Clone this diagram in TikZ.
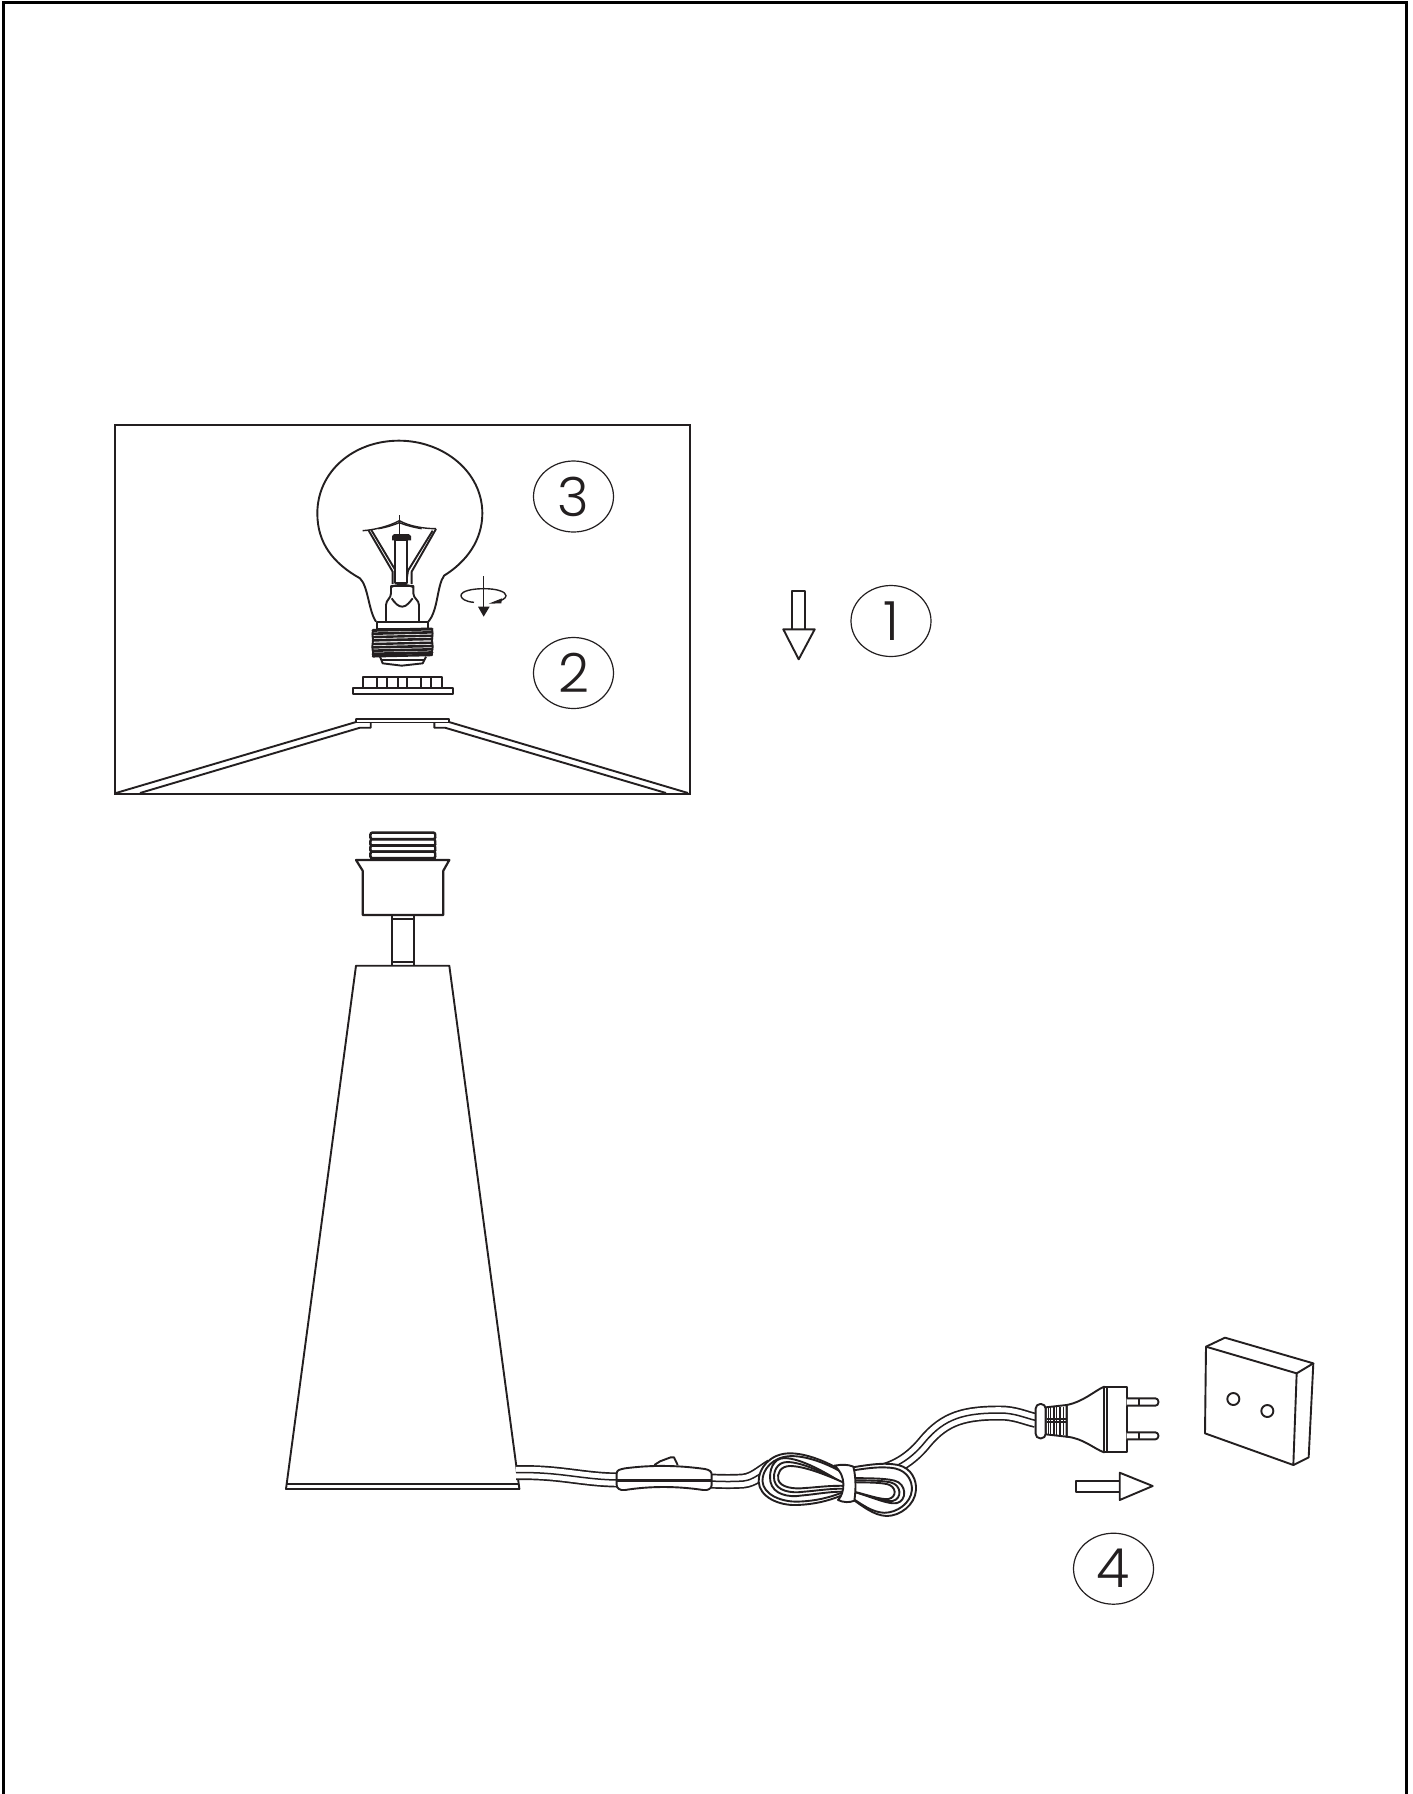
\documentclass[tikz,border=0pt]{standalone}
\usepackage{fontspec}
\newfontfamily\numfont[UprightFont=* Light]{Poppins}
\usetikzlibrary{shapes.geometric}
\definecolor{ink}{HTML}{231F20}
\tikzset{
  thin line/.style={draw=ink,line width=1.4pt},
  med line/.style={draw=ink,line width=1.9pt,line join=round},
  frame line/.style={draw=black,line width=3.2pt},
  numring/.style={ellipse,draw=ink,line width=1.2pt,minimum width=80pt,minimum height=71pt,inner sep=0pt,font=\numfont\fontsize{54}{54}\selectfont,text=ink},
  cable outer/.style={draw=ink,line width=15pt},
  cable inner/.style={draw=white,line width=11.6pt},
  cable mid/.style={draw=ink,line width=1.5pt},
}
\newcommand{\cablepath}[1]{%
  \draw[cable outer] #1;
  \draw[cable inner] #1;
  \draw[cable mid] #1;
}
\newcommand{\numtext}[1]{\raisebox{-1.5pt}{#1}}
\begin{document}
\begin{tikzpicture}[x=1pt,y=-1pt]
\useasboundingbox (0,0) rectangle (1413,1794);
\fill[white] (0,0) rectangle (1413,1794);
% frame
\draw[frame line] (3.5,1794) -- (3.5,2.6) -- (1406.5,2.6) -- (1406.5,1794);
% shade box
\draw[draw=ink,line width=2pt] (115,425) rectangle (690,794);
% shade inner
\draw[med line] (116,793) -- (356,722) -- (356,719) -- (449,719) -- (449,722) -- (688,793);
\draw[med line] (356,722.5) -- (449,722.5);
\draw[med line] (140,793) -- (360,727.7) -- (370.7,727.7) -- (370.7,722.5);
\draw[med line] (666,793) -- (445,727.7) -- (434.3,727.7) -- (434.3,722.5);
% bulb (zoom coordinates)
\begin{scope}[shift={(300,430)},scale=1/3]
  \draw[med line] (228,575) .. controls (205,540) and (205,470) .. (180,445)
     .. controls (100,400) and (52,340) .. (52,250)
     .. controls (52,125) and (160,32) .. (297,32)
     .. controls (430,32) and (547,125) .. (547,250)
     .. controls (547,330) and (500,395) .. (432,437)
     .. controls (410,470) and (415,540) .. (385,575);
  % filament support
  \draw[thin line] (188,302) .. controls (220,300) and (265,290) .. (298,272) .. controls (330,290) and (375,296) .. (408,296);
  \draw[thin line] (235,296) .. controls (260,292) and (280,285) .. (298,278) .. controls (315,285) and (340,292) .. (365,296);
  \draw[thin line] (298,255) -- (298,315);
  \draw[med line] (205,300) -- (278,425) -- (278,462);
  \draw[med line] (214,300) -- (287,422) -- (292,462);
  \draw[med line] (408,297) -- (335,425) -- (335,462);
  \draw[med line] (398,302) -- (324,422) -- (318,462);
  \draw[med line,fill=white] (285,330) rectangle (320,458);
  \fill[ink] (282,312) -- (326,312) -- (333,318) -- (333,331) -- (276,331) -- (276,318) -- cycle;
  % stem
  \draw[med line,fill=white] (258,575) -- (258,525) .. controls (258,510) and (273,505) .. (273,490) -- (273,468)
     -- (340,468) -- (340,490) .. controls (340,505) and (357,510) .. (357,525) -- (357,575);
  \draw[med line] (273,472) .. controls (285,462) and (325,462) .. (340,472);
  \draw[med line] (275,505) .. controls (285,520) and (295,530) .. (307,530) .. controls (320,530) and (330,515) .. (338,505);
  % collar and thread
  \draw[med line,fill=white] (230,575) rectangle (385,597);
  \fill[white] (217,597) rectangle (398,680);
  \draw[med line] (240,680) -- (248,700) -- (305,707) -- (368,700) -- (378,680);
  \draw[med line] (245,690) -- (372,690);
  \foreach \yy/\w in {600/3,610/2.6,620/2.4,630/2.6,641/2.4,651/2.6,661/2.6,671/3,678/2.4}
    \draw[ink,line width=\w pt,line cap=round] (219,\yy+1) -- (396,\yy-3);
  \draw[med line] (219,600) .. controls (214,620) and (222,625) .. (218,640) .. controls (214,655) and (222,665) .. (219,678);
  \draw[med line] (396,597) .. controls (401,620) and (393,625) .. (397,640) .. controls (401,655) and (393,665) .. (396,675);
  % lampholder teeth
  \draw[med line] (190,742) rectangle (427,775);
  \foreach \xx in {232,260,295,320,362,392}
    \draw[med line] (\xx,742) -- (\xx,775);
  \draw[med line,fill=white] (160,775) rectangle (458,793);
  % rotation arrow
  \draw[thin line] (550,438) -- (550,535);
  \fill[ink] (534,530) -- (569,530) -- (551,560) -- cycle;
  \draw[thin line] (522,517) .. controls (495,515) and (483,505) .. (483,497)
     .. controls (483,482) and (520,476) .. (552,476)
     .. controls (590,476) and (618,485) .. (618,497)
     .. controls (618,505) and (605,512) .. (590,515);
  \fill[ink] (566,521) -- (606,505) -- (604,520) -- cycle;
\end{scope}
% number rings
\node[numring] (n3) at (573.5,496.5) {\numtext{3}};
\node[numring] (n2) at (573.5,673) {\numtext{2}};
\node[numring] (n1) at (891,621) {\numtext{1}};
\node[numring] (n4) at (1113.5,1568.7) {\numtext{4}};
% arrows
\draw[med line] (792.3,629.3) -- (792.3,590.7) -- (805,590.7) -- (805,629.3);
\draw[med line] (783.3,629.3) -- (814.7,629.3) -- (798.7,659.3) -- cycle;
\draw[med line] (1119.7,1480.7) -- (1075.7,1480.7) -- (1075.7,1491.7) -- (1119.7,1491.7);
\draw[med line] (1119.7,1472.7) -- (1152.7,1486) -- (1119.7,1500) -- cycle;
% socket fitting
\begin{scope}[shift={(330,810)},scale=1/3]
  \foreach \yy in {68,88,106,125}
    \draw[med line,rounded corners=2pt,line width=2.4pt] (120,\yy) -- (317,\yy) -- (314,\yy+10) -- (317,\yy+19) -- (120,\yy+19) -- (123,\yy+10) -- cycle;
  \draw[med line,line width=2.4pt] (120,146) -- (317,146);
  \draw[med line,line width=2.2pt] (78,150) -- (358,150) -- (340,182) -- (340,315) -- (98,315) -- (98,182) -- cycle;
  \draw[med line] (185,315) -- (185,467);
  \draw[med line] (252,315) -- (252,467);
  \draw[med line] (185,326) -- (252,326);
  \draw[med line] (185,456) -- (252,456);
\end{scope}
% lamp base
\draw[med line] (286,1489) -- (356,965.7) -- (449.3,965.7) -- (519.4,1489) -- cycle;
\draw[med line] (287,1484) -- (518.5,1484);
% cable from base to switch
\begin{scope}[shift={(500,1400)},scale=1/3]
  \cablepath{(48,218) .. controls (180,215) and (240,238) .. (352,240)}
  \cablepath{(632,243) .. controls (670,245) and (700,245) .. (730,243) .. controls (760,240) and (780,220) .. (815,198)}
  % switch
  \draw[med line,fill=white] (350,220) .. controls (350,210) and (360,208) .. (375,205)
     .. controls (450,195) and (530,195) .. (615,207)
     .. controls (630,210) and (635,215) .. (635,225) -- (635,255)
     .. controls (635,265) and (625,272) .. (610,270)
     .. controls (530,258) and (450,258) .. (375,270)
     .. controls (360,272) and (350,265) .. (350,255) -- cycle;
  \draw[ink,line width=2.4pt] (352,241) -- (633,241);
  \draw[med line,line join=round] (463,195) -- (480,184) -- (512,172) -- (522,172) -- (533,195);
\end{scope}
% cable to plug
\cablepath{(862,1474) .. controls (888,1473) and (908,1463) .. (925,1442) .. controls (945,1418) and (965,1413) .. (1000,1413) .. controls (1015,1413) and (1025,1418) .. (1036,1420.5)}
% coil
\begin{scope}[shift={(500,1400)},scale=1/3]
  % right loop: outer turns, then the turns round the hole
  \foreach \sx/\sy in {1/1,.94/.87}{
    \begin{scope}[shift={(1040,274)},xscale=\sx,yscale=\sy,shift={(-1040,-274)}]
      \draw[med line,fill=white] (1040,205) .. controls (1100,195) and (1150,186) .. (1195,195)
        .. controls (1235,205) and (1250,240) .. (1248,270)
        .. controls (1245,315) and (1200,348) .. (1160,348)
        .. controls (1120,346) and (1090,320) .. (1040,285) -- cycle;
    \end{scope}
  }
  \foreach \sx/\sy in {1.2/1.5,1.1/1.24,1/1}{
    \begin{scope}[shift={(1040,272)},xscale=\sx,yscale=\sy,shift={(-1040,-272)}]
      \draw[med line,fill=white] (1040,246) .. controls (1090,248) and (1130,246) .. (1160,252)
        .. controls (1190,258) and (1192,292) .. (1165,297)
        .. controls (1140,300) and (1090,280) .. (1040,270) -- cycle;
    \end{scope}
  }
  % left loop
  \foreach \sx/\sy in {1/1,.94/.88}{
    \begin{scope}[shift={(966,230)},xscale=\sx,yscale=\sy,shift={(-966,-230)}]
      \draw[med line,fill=white] (1040,222) .. controls (985,185) and (915,158) .. (865,160)
        .. controls (810,162) and (775,205) .. (776,245)
        .. controls (778,290) and (835,317) .. (890,315)
        .. controls (945,313) and (990,302) .. (1040,280) -- cycle;
    \end{scope}
  }
  \foreach \sx/\sy in {1.18/1.7,1.09/1.35,1/1}{
    \begin{scope}[shift={(966,232)},xscale=\sx,yscale=\sy,shift={(-966,-232)}]
      \draw[med line,fill=white] (1040,252) .. controls (975,222) and (910,198) .. (870,198)
        .. controls (842,198) and (830,220) .. (835,240)
        .. controls (842,262) and (880,268) .. (915,264)
        .. controls (950,262) and (1000,255) .. (1040,258) -- cycle;
    \end{scope}
  }
  % band
  \draw[med line,fill=white] (1003,197) .. controls (1025,193) and (1045,193) .. (1060,200)
     .. controls (1068,230) and (1068,270) .. (1063,302)
     .. controls (1050,308) and (1030,308) .. (1014,300)
     .. controls (1035,280) and (1040,225) .. (1003,197) -- cycle;
\end{scope}
% plug and wall socket
\begin{scope}[shift={(900,1320)},scale=1/3]
  \draw[med line,fill=white] (500,255) .. controls (550,245) and (580,215) .. (612,200)
     -- (612,397) .. controls (580,385) and (550,355) .. (500,350) -- cycle;
  \draw[med line,fill=white] (437,262) -- (500,255) -- (500,350) -- (437,343) -- cycle;
  \foreach \xx in {445,452,462,470,480,490}
    \draw[thin line] (\xx,260) -- (\xx,346);
  \draw[thin line] (440,297) -- (498,297);
  \draw[thin line] (440,306) -- (498,306);
  \draw[med line,fill=white,rounded corners=4.5pt] (407,252) rectangle (437,355);
  \draw[med line] (612,200) rectangle (680,397);
  \draw[med line] (622,200) -- (622,397);
  \draw[med line,fill=white,rounded corners=3pt] (680,235) -- (775,235) -- (775,257) -- (680,257);
  \draw[med line] (718,235) -- (718,257);
  \draw[med line,fill=white,rounded corners=3pt] (680,337) -- (775,337) -- (775,358) -- (680,358);
  \draw[med line] (718,337) -- (718,358);
  % wall socket
  \draw[med line] (918,80) -- (1190,160) -- (1180,435) -- (915,340) -- cycle;
  \draw[med line] (918,80) -- (975,53) -- (1240,130) -- (1190,160);
  \draw[med line] (1240,130) -- (1226,412) -- (1180,435);
  \draw[med line] (1000,237) circle[radius=18];
  \draw[med line] (1102,273) circle[radius=18];
\end{scope}
\end{tikzpicture}
\end{document}
